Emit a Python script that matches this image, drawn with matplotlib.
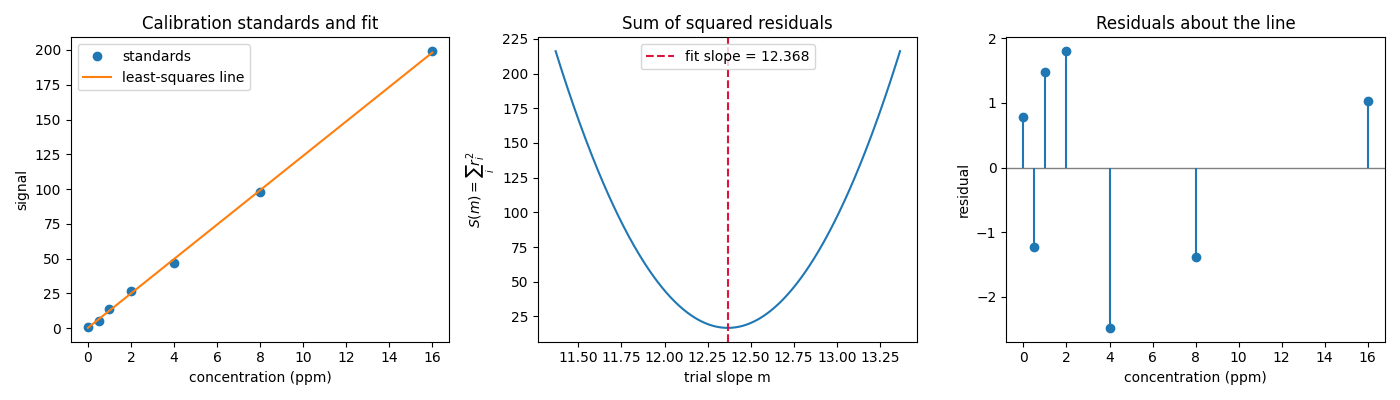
import numpy as np
import matplotlib
matplotlib.use("Agg")
import matplotlib.pyplot as plt

concentration = [0, 0.5, 1, 2, 4, 8, 16]
signal = [0.98, 5.16, 14.05, 26.74, 47.19, 97.76, 199.12]

x = np.array(concentration, dtype=float)
y = np.array(signal, dtype=float)

slope, intercept = np.polyfit(x, y, 1)
fit_y = slope * x + intercept
residuals = y - fit_y

trial = np.linspace(slope - 1, slope + 1, 400)
S = np.array([np.sum((y - (m * x + (y.mean() - m * x.mean()))) ** 2) for m in trial])

fig, axes = plt.subplots(1, 3, figsize=(14, 4), dpi=100)

ax = axes[0]
ax.plot(x, y, "o", color="C0", label="standards")
xx = np.linspace(x.min(), x.max(), 50)
ax.plot(xx, slope * xx + intercept, color="C1", label="least-squares line")
ax.set_title("Calibration standards and fit")
ax.set_xlabel("concentration (ppm)")
ax.set_ylabel("signal")
ax.set_xticks(np.arange(0, 17, 2))
ax.legend(loc="upper left")

ax = axes[1]
ax.plot(trial, S, color="C0")
ax.axvline(slope, color="crimson", linestyle="--", label=f"fit slope = {slope:.3f}")
ax.set_title("Sum of squared residuals")
ax.set_xlabel("trial slope m")
ax.set_ylabel(r"$S(m)=\sum_i r_i^2$")
ax.legend(loc="upper center")

ax = axes[2]
ax.axhline(0, color="gray", linewidth=1)
ax.stem(x, residuals, linefmt="C0-", markerfmt="C0o", basefmt=" ")
ax.set_title("Residuals about the line")
ax.set_xlabel("concentration (ppm)")
ax.set_ylabel("residual")
ax.set_xticks(np.arange(0, 17, 2))

fig.tight_layout()
fig.savefig("out.png")
